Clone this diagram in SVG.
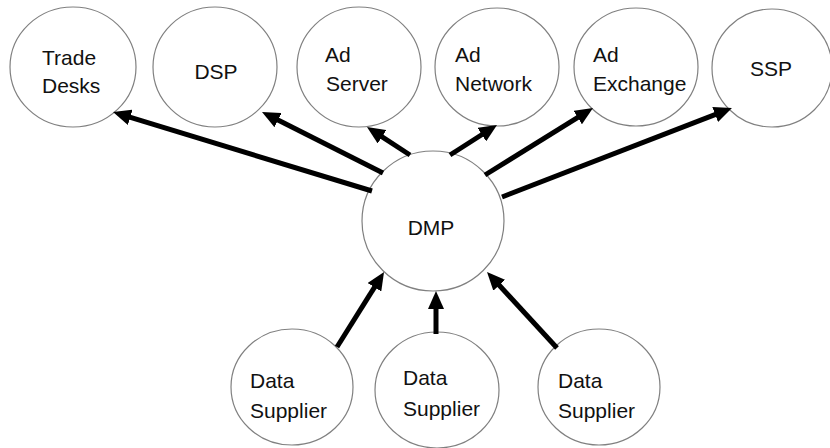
<svg xmlns="http://www.w3.org/2000/svg" width="830" height="448" viewBox="0 0 830 448">
<style>
.n{fill:#fff;stroke:#808080;stroke-width:1.2}
.t{font-family:"Liberation Sans",Arial,sans-serif;font-size:21px;fill:#111}
.c line{stroke:#000;stroke-width:5}
</style>
<defs>
<marker id="ah" markerUnits="userSpaceOnUse" markerWidth="18" markerHeight="16" refX="4" refY="8" orient="auto">
<path d="M0,0 L18,8 L0,16 z" fill="#000"/>
</marker>
</defs>
<rect width="830" height="448" fill="#fff"/>
<g id="trade-desks"><ellipse class="n" cx="73" cy="67" rx="63" ry="60"/><text class="t" x="42" y="65">Trade</text><text class="t" x="42" y="93">Desks</text></g>
<g id="dsp"><ellipse class="n" cx="215" cy="67" rx="62" ry="60"/><text class="t" x="216" y="79" text-anchor="middle">DSP</text></g>
<g id="ad-server"><ellipse class="n" cx="359" cy="67" rx="62" ry="60"/><text class="t" x="325" y="62">Ad</text><text class="t" x="326" y="91">Server</text></g>
<g id="ad-network"><ellipse class="n" cx="497" cy="67" rx="62" ry="59"/><text class="t" x="455" y="62">Ad</text><text class="t" x="455" y="91">Network</text></g>
<g id="ad-exchange"><ellipse class="n" cx="636" cy="67" rx="62" ry="59"/><text class="t" x="593" y="62">Ad</text><text class="t" x="593" y="91">Exchange</text></g>
<g id="ssp"><ellipse class="n" cx="772" cy="68" rx="60" ry="59"/><text class="t" x="771" y="76" text-anchor="middle">SSP</text></g>
<g id="dmp"><ellipse class="n" cx="433" cy="221" rx="71" ry="70"/><text class="t" x="431" y="235" text-anchor="middle">DMP</text></g>
<g id="data-supplier-1"><ellipse class="n" cx="292" cy="387" rx="61" ry="58"/><text class="t" x="250" y="388">Data</text><text class="t" x="250" y="418">Supplier</text></g>
<g id="data-supplier-2"><ellipse class="n" cx="437" cy="390" rx="62" ry="58"/><text class="t" x="403" y="385">Data</text><text class="t" x="403" y="416">Supplier</text></g>
<g id="data-supplier-3"><ellipse class="n" cx="599" cy="387" rx="61" ry="58"/><text class="t" x="558" y="388">Data</text><text class="t" x="558" y="418">Supplier</text></g>
<g class="c" id="connectors">
<line x1="372" y1="191" x2="126.4" y2="116.1" marker-end="url(#ah)"/>
<line x1="383" y1="173" x2="274.5" y2="118.3" marker-end="url(#ah)"/>
<line x1="410" y1="155" x2="378.7" y2="134.6" marker-end="url(#ah)"/>
<line x1="450" y1="155" x2="485.2" y2="132.5" marker-end="url(#ah)"/>
<line x1="485" y1="175" x2="581.1" y2="115.4" marker-end="url(#ah)"/>
<line x1="502" y1="197" x2="718.9" y2="113.1" marker-end="url(#ah)"/>
<line x1="337" y1="347" x2="376.6" y2="283.9" marker-end="url(#ah)"/>
<line x1="436" y1="334" x2="436" y2="305" marker-end="url(#ah)"/>
<line x1="557" y1="348" x2="496.5" y2="282.3" marker-end="url(#ah)"/>
</g>
</svg>
